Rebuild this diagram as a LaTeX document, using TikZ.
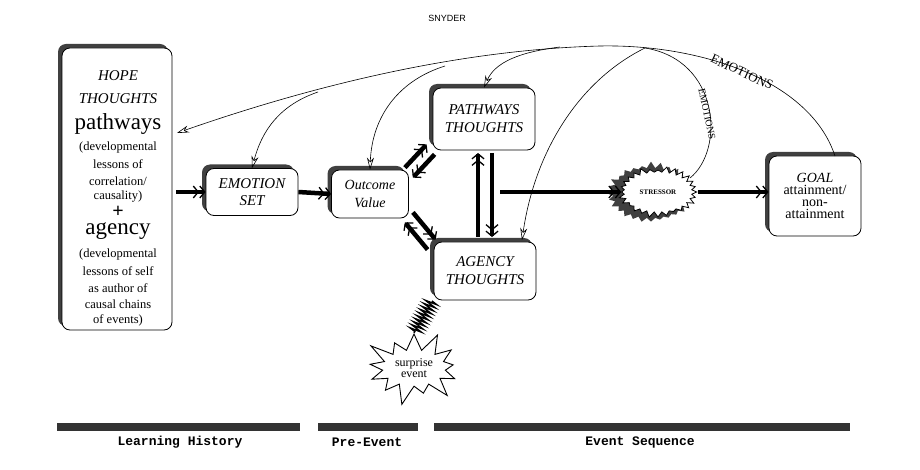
\documentclass[tikz,border=0pt]{standalone}
\usepackage{fontspec}
\setmainfont{Liberation Serif}
\newfontfamily\monof{Liberation Mono}
\newfontfamily\sansf{Liberation Sans}
\usetikzlibrary{arrows.meta,shapes.symbols,shadows,decorations.pathmorphing,calc}
\begin{document}
\begin{tikzpicture}[x=1pt,y=-1pt,
 box/.style={draw,line width=0.8pt,rounded corners=8pt,fill=white,align=center,
   drop shadow={shadow xshift=-4pt,shadow yshift=4pt,fill=black!75,opacity=1}},
 big/.style={line width=4.5pt,-{Straight Barb[length=5pt,width=12pt,line width=1.3pt] Straight Barb[length=5pt,width=12pt,line width=1.3pt]}},
 thin/.style={line width=0.6pt,-{Stealth[open,length=12pt,width=7pt]}},
 bar/.style={fill=black!80,draw=none},
 ht/.style={font=\fontsize{15}{15}\selectfont\itshape},
 hb/.style={font=\fontsize{23}{23}\selectfont},
 hs/.style={font=\fontsize{12.5}{13}\selectfont}]
\useasboundingbox (0,0) rectangle (920,470);
\node[font=\sansf\fontsize{9}{10}\selectfont] (sny) at (447,18) {SNYDER};
\node[box,minimum width=110pt,minimum height=282pt,inner sep=2pt] (hope) at (117,189) {};
\node[ht] (h1) at (118,76) {HOPE};
\node[ht] (h2) at (118,99) {THOUGHTS};
\node[hb] (h3) at (118,124) {pathways};
\node[hs] (h4) at (118,147) {(developmental};
\node[hs] (h5) at (118,164) {lessons of};
\node[hs] (h6) at (118,181) {correlation/};
\node[hs] (h7) at (118,197) {causality)};
\node[font=\fontsize{20}{20}\selectfont\bfseries] (h8) at (118,212) {+};
\node[hb] (h9) at (118,231) {agency};
\node[hs] (h10) at (118,254) {(developmental};
\node[hs] (h11) at (118,271) {lessons of self};
\node[hs] (h12) at (118,288) {as author of};
\node[hs] (h13) at (118,304) {causal chains};
\node[hs] (h14) at (118,320) {of events)};
\node[box,minimum width=92pt,minimum height=47pt,font=\itshape\fontsize{15}{17}\selectfont] (emo) at (252,192) {EMOTION\\SET};
\node[box,minimum width=77pt,minimum height=48pt,font=\itshape\fontsize{14}{18}\selectfont] (out) at (370,194) {Outcome\\Value};
\node[box,minimum width=102pt,minimum height=62pt,font=\itshape\fontsize{15}{18}\selectfont] (path) at (484,119) {PATHWAYS\\THOUGHTS};
\node[box,minimum width=102pt,minimum height=58pt,font=\itshape\fontsize{15}{18}\selectfont] (agen) at (485,271) {AGENCY\\THOUGHTS};
\node[box,minimum width=92pt,minimum height=80pt,font=\fontsize{14}{12}\selectfont] (goal) at (815,196) {\textit{GOAL}\\attainment/\\non-\\attainment};
% stressor
\node[starburst,starburst points=28,starburst point height=7pt,random starburst=7,fill=black!75,minimum width=90pt,minimum height=64pt] (sshadow) at (651,193) {};
\node[starburst,starburst points=28,starburst point height=6pt,random starburst=3,draw,line width=0.8pt,fill=white,minimum width=80pt,minimum height=52pt,font=\bfseries\fontsize{7}{8}\selectfont] (str) at (658,192) {STRESSOR};
% surprise
\node[starburst,starburst points=13,starburst point height=22pt,draw,line width=0.9pt,fill=white,minimum width=95pt,minimum height=80pt,align=center,font=\fontsize{12}{11}\selectfont] (sur) at (414,368) {surprise\\event};
\coordinate (zz) at (432,301);
\draw[line width=1.4pt,decorate,decoration={zigzag,segment length=3.5pt,amplitude=6pt}] (zz) -- (sur.north);
% big arrows
\coordinate (hh) at (176,192);
\draw[big] (hh) -- (emo.west);
\draw[big] (emo.east) -- (out.west);
\coordinate (o1) at ($(out.north east)+(0,2)$);
\coordinate (p1) at ($(path.south west)+(-2,-2)$);
\draw[big] ($(o1)+(-4,-4)$) -- ($(p1)+(-4,-4)$);
\draw[big] ($(p1)+(4,6)$) -- ($(o1)+(4,6)$);
\coordinate (o2) at ($(out.south east)+(0,-2)$);
\coordinate (a1) at ($(agen.north west)+(-2,2)$);
\draw[big] ($(o2)+(4,-4)$) -- ($(a1)+(4,-4)$);
\draw[big] ($(a1)+(-4,6)$) -- ($(o2)+(-4,6)$);
\coordinate (pu) at (478,153);
\coordinate (pd) at (492,153);
\draw[big] (478,237) -- (pu);
\draw[big] (pd) -- (492,237);
\coordinate (mid) at (500,192);
\draw[big] (mid) -- (mid-|str.west);
\draw[big] (str.east) -- (str.east-|goal.west);
% thin arcs
\coordinate (top) at (600,46);
\coordinate (g1) at (835,156);
\draw[thin] (g1) .. controls (810,80) and (700,44) .. (top) .. controls (450,50) and (300,90) .. (177,133);
\draw[thin] (318,92) .. controls (280,105) and (262,130) .. (emo.north);
\draw[thin] (445,66) .. controls (400,80) and (372,115) .. (out.north);
\draw[thin] (560,47) .. controls (520,52) and (495,62) .. (path.north);
\draw[thin] (645,48) .. controls (580,80) and (535,150) .. (522,240);
\draw[line width=0.6pt] (690,178) .. controls (725,150) and (720,60) .. (645,48);
\node[rotate=-25,font=\fontsize{13}{13}\selectfont] (e1) at (742,72) {EMOTIONS};
\node[rotate=-78,font=\fontsize{10}{10}\selectfont] (e2) at (707,114) {EMOTIONS};
% bars
\fill[bar] (57,423) rectangle (300,431);
\fill[bar] (318,423) rectangle (418,431);
\fill[bar] (434,423) rectangle (850,431);
\node[font=\monof\bfseries\fontsize{13}{13}\selectfont] (l1) at (180,442) {Learning History};
\node[font=\monof\bfseries\fontsize{13}{13}\selectfont] (l2) at (367,442) {Pre-Event};
\node[font=\monof\bfseries\fontsize{13}{13}\selectfont] (l3) at (640,442) {Event Sequence};
\end{tikzpicture}
\end{document}
